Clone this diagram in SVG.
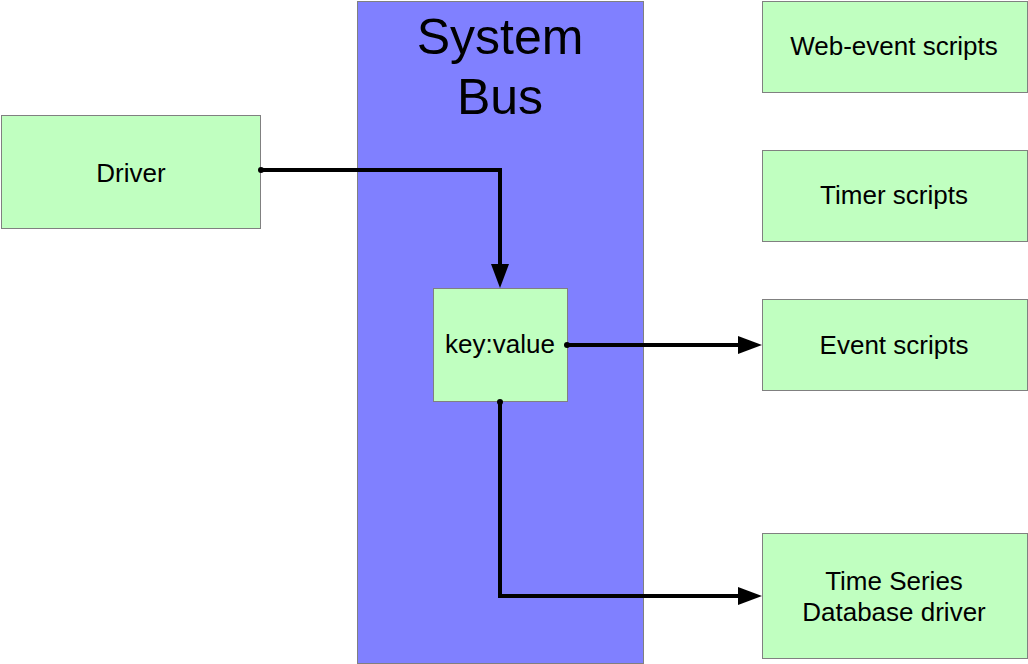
<svg xmlns="http://www.w3.org/2000/svg" width="1028" height="664" viewBox="0 0 1028 664">
<style>
.box{fill:#c0ffc0;stroke:#808080;stroke-width:1}
.bus{fill:#8080ff;stroke:#808080;stroke-width:1}
.t{font-family:"Liberation Sans",Arial,sans-serif;font-size:26px;fill:#000;text-anchor:middle}
.tb{font-family:"Liberation Sans",Arial,sans-serif;font-size:50px;fill:#000;text-anchor:middle}
.c{fill:none;stroke:#000;stroke-width:4;stroke-linejoin:miter}
</style>
<defs>
<marker id="arr" markerWidth="24" markerHeight="18" refX="0" refY="9" orient="auto" markerUnits="userSpaceOnUse"><path d="M0,0 L24,9 L0,18 Z" fill="#000"/></marker>
</defs>
<rect width="1028" height="664" fill="#fff"/>
<g id="bus">
<rect class="bus" x="357.5" y="1.5" width="286" height="662"/>
<text class="tb" x="500" y="54">System</text>
<text class="tb" x="500" y="114">Bus</text>
</g>
<g id="driver">
<rect class="box" x="1.5" y="115.5" width="259" height="113"/>
<text class="t" x="131" y="182">Driver</text>
</g>
<g id="keyvalue">
<rect class="box" x="433.5" y="288.5" width="134" height="113"/>
<text class="t" x="500" y="353">key:value</text>
</g>
<g id="webevent">
<rect class="box" x="762.5" y="1.5" width="265" height="91"/>
<text class="t" x="894" y="55">Web-event scripts</text>
</g>
<g id="timer">
<rect class="box" x="762.5" y="150.5" width="265" height="91"/>
<text class="t" x="894" y="204">Timer scripts</text>
</g>
<g id="event">
<rect class="box" x="762.5" y="299.5" width="265" height="91"/>
<text class="t" x="894" y="354">Event scripts</text>
</g>
<g id="tsdb">
<rect class="box" x="762.5" y="533.5" width="265" height="125"/>
<text class="t" x="894" y="590">Time Series</text>
<text class="t" x="894" y="621">Database driver</text>
</g>
<g id="connectors">
<circle cx="261" cy="170" r="3"/>
<path class="c" d="M261,170 H500 V264" marker-end="url(#arr)"/>
<circle cx="567" cy="345" r="3"/>
<path class="c" d="M567,345 H738" marker-end="url(#arr)"/>
<circle cx="500" cy="402" r="3"/>
<path class="c" d="M500,402 V596 H738" marker-end="url(#arr)"/>
</g>
</svg>
